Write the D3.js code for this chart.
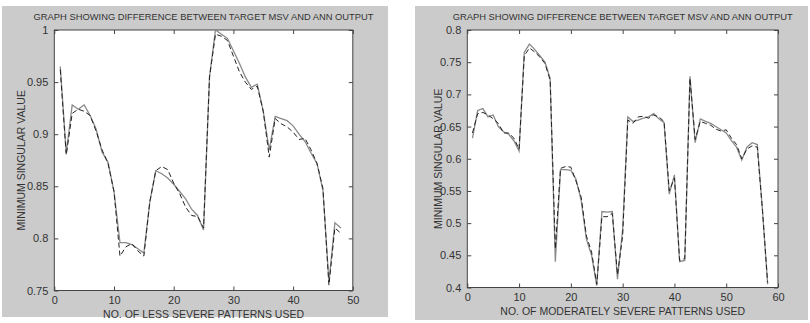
<!DOCTYPE html>
<html>
<head>
<meta charset="utf-8">
<script src="https://cdn.jsdelivr.net/npm/d3@7"></script>
<style>
  body { margin: 0; background: #fff; }
  svg text { font-family: "Liberation Sans", Arial, sans-serif; fill: #333; }
</style>
</head>
<body>
<svg id="chart" width="810" height="323"></svg>
<script>
// left panel: less severe patterns
const lessTarget = [0.965, 0.882, 0.928, 0.924, 0.928, 0.918, 0.905, 0.883, 0.873, 0.845,
  0.796, 0.796, 0.794, 0.790, 0.786, 0.835, 0.865, 0.862, 0.858, 0.852,
  0.845, 0.838, 0.828, 0.822, 0.808, 0.955, 1.000, 0.996, 0.992, 0.980,
  0.968, 0.955, 0.945, 0.948, 0.922, 0.885, 0.917, 0.915, 0.913, 0.908,
  0.900, 0.893, 0.882, 0.872, 0.846, 0.758, 0.815, 0.810];
const lessAnn = [0.962, 0.880, 0.920, 0.924, 0.922, 0.918, 0.903, 0.885, 0.872, 0.845,
  0.783, 0.792, 0.795, 0.788, 0.783, 0.835, 0.865, 0.869, 0.866, 0.853,
  0.843, 0.830, 0.822, 0.821, 0.810, 0.955, 0.996, 0.994, 0.990, 0.975,
  0.960, 0.950, 0.943, 0.946, 0.922, 0.878, 0.915, 0.910, 0.907, 0.902,
  0.895, 0.896, 0.885, 0.872, 0.848, 0.755, 0.810, 0.805];

// right panel: moderately severe patterns
const modTarget = [0.632, 0.675, 0.678, 0.665, 0.668, 0.650, 0.642, 0.638, 0.628, 0.612,
  0.765, 0.778, 0.770, 0.760, 0.750, 0.725, 0.440, 0.583, 0.583, 0.582,
  0.568, 0.535, 0.475, 0.450, 0.403, 0.518, 0.517, 0.518, 0.413, 0.490,
  0.665, 0.658, 0.660, 0.663, 0.665, 0.670, 0.662, 0.656, 0.545, 0.575,
  0.440, 0.442, 0.728, 0.625, 0.662, 0.658, 0.655, 0.650, 0.645, 0.640,
  0.628, 0.618, 0.598, 0.618, 0.625, 0.622, 0.520, 0.405];
const modAnn = [0.640, 0.670, 0.672, 0.668, 0.662, 0.655, 0.640, 0.640, 0.632, 0.615,
  0.760, 0.772, 0.766, 0.758, 0.748, 0.722, 0.460, 0.585, 0.588, 0.587,
  0.565, 0.540, 0.480, 0.455, 0.405, 0.510, 0.510, 0.515, 0.420, 0.480,
  0.660, 0.655, 0.665, 0.666, 0.663, 0.668, 0.665, 0.658, 0.550, 0.570,
  0.442, 0.445, 0.725, 0.630, 0.658, 0.655, 0.652, 0.646, 0.643, 0.645,
  0.632, 0.622, 0.600, 0.615, 0.620, 0.618, 0.520, 0.408];

const lessXTicks = [0, 10, 20, 30, 40, 50];
const lessYTicks = [0.75, 0.8, 0.85, 0.9, 0.95, 1];
const modXTicks = [0, 10, 20, 30, 40, 50, 60];
const modYTicks = [0.4, 0.45, 0.5, 0.55, 0.6, 0.65, 0.7, 0.75, 0.8];

const title = "GRAPH SHOWING DIFFERENCE BETWEEN TARGET MSV AND ANN OUTPUT";
const svg = d3.select("#chart");

function drawPanel(p) {
  // gray figure background
  svg.append("rect")
    .attr("x", p.bg[0]).attr("y", p.bg[1])
    .attr("width", p.bg[2]).attr("height", p.bg[3])
    .attr("fill", "#cbcbcb");

  const x = d3.scaleLinear().domain(p.xDomain).range([p.left, p.right]);
  const y = d3.scaleLinear().domain(p.yDomain).range([p.bottom, p.top]);

  const g = svg.append("g");
  g.append("rect")
    .attr("x", p.left).attr("y", p.top)
    .attr("width", p.right - p.left).attr("height", p.bottom - p.top)
    .attr("fill", "#fff");

  // axes with inward ticks on all four sides
  const fmt = d3.format("");
  g.append("g").attr("transform", `translate(0,${p.bottom})`)
    .call(d3.axisBottom(x).tickValues(p.xTicks).tickSizeInner(-4).tickSizeOuter(0).tickPadding(6).tickFormat(fmt));
  g.append("g").attr("transform", `translate(${p.left},0)`)
    .call(d3.axisLeft(y).tickValues(p.yTicks).tickSizeInner(-4).tickSizeOuter(0).tickPadding(6).tickFormat(fmt));
  g.append("g").attr("transform", `translate(0,${p.top})`)
    .call(d3.axisTop(x).tickValues(p.xTicks).tickSizeInner(-4).tickSizeOuter(0).tickFormat(""));
  g.append("g").attr("transform", `translate(${p.right},0)`)
    .call(d3.axisRight(y).tickValues(p.yTicks).tickSizeInner(-4).tickSizeOuter(0).tickFormat(""));
  g.selectAll(".domain").remove();
  g.selectAll(".tick line").attr("stroke", "#444");
  g.selectAll(".tick text").style("font-size", "11px").attr("fill", "#333");

  g.append("rect")
    .attr("x", p.left).attr("y", p.top)
    .attr("width", p.right - p.left).attr("height", p.bottom - p.top)
    .attr("fill", "none").attr("stroke", "#444").attr("stroke-width", 1);

  const line = d3.line().x((d, i) => x(i + 1)).y(d => y(d));
  g.append("path").datum(p.target)
    .attr("d", line).attr("fill", "none")
    .attr("stroke", "#8a8a8a").attr("stroke-width", 1.3);
  g.append("path").datum(p.ann)
    .attr("d", line).attr("fill", "none")
    .attr("stroke", "#222").attr("stroke-width", 1)
    .attr("stroke-dasharray", "5,3");

  const cx = (p.left + p.right) / 2;
  g.append("text").attr("x", cx).attr("y", 20)
    .attr("text-anchor", "middle").style("font-size", "9.5px")
    .attr("textLength", 340).attr("lengthAdjust", "spacingAndGlyphs")
    .text(title);
  g.append("text").attr("x", cx).attr("y", p.bottom + 27)
    .attr("text-anchor", "middle").style("font-size", "10.5px")
    .text(p.xLabel);
  g.append("text")
    .attr("transform", `translate(${p.yLabelX},${(p.top + p.bottom) / 2}) rotate(-90)`)
    .attr("text-anchor", "middle").style("font-size", "10.5px")
    .text("MINIMUM SINGULAR VALUE");
}

drawPanel({
  bg: [2, 6, 386, 311],
  left: 54.3, right: 352.8, top: 30, bottom: 290.5,
  xDomain: [0, 50], yDomain: [0.75, 1],
  xTicks: lessXTicks, yTicks: lessYTicks,
  target: lessTarget, ann: lessAnn,
  xLabel: "NO. OF LESS SEVERE PATTERNS USED",
  yLabelX: 25
});

drawPanel({
  bg: [415, 6, 393, 314],
  left: 467.3, right: 778, top: 30, bottom: 287.5,
  xDomain: [0, 60], yDomain: [0.4, 0.8],
  xTicks: modXTicks, yTicks: modYTicks,
  target: modTarget, ann: modAnn,
  xLabel: "NO. OF MODERATELY SEVERE PATTERNS USED",
  yLabelX: 442
});
</script>
</body>
</html>
